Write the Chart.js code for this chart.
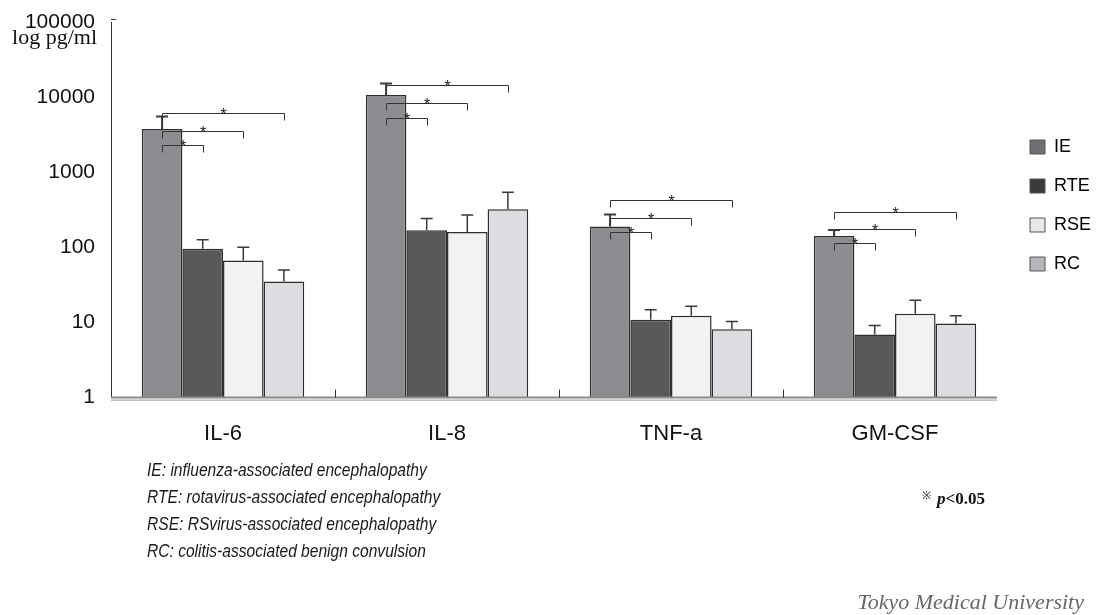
<!DOCTYPE html>
<html>
<head>
<meta charset="utf-8">
<script src="https://cdn.jsdelivr.net/npm/chart.js"></script>
<style>
    body { margin: 0; background: #fff; }
    #wrap { position: relative; width: 1099px; height: 615px; }
    .notes { position: absolute; left: 147px; top: 456px; font: italic 19px 'Liberation Sans', Arial, sans-serif; line-height: 27px; color: #1a1a1a; transform: scaleX(0.82); transform-origin: left top; white-space: nowrap; }
    .pval { position: absolute; left: 922px; top: 487px; font: bold 17px 'Liberation Serif', 'Times New Roman', serif; color: #111; }
    .pval .mark { font-weight: normal; font-size: 11px; vertical-align: 5px; margin-right: 6px; }
    .credit { position: absolute; right: 15px; top: 589px; font: italic 22px 'Liberation Serif', 'Times New Roman', serif; color: #666; }
</style>
</head>
<body>
<div id="wrap">
    <canvas id="cytokines" width="1099" height="615"></canvas>
    <div class="notes">
        IE: influenza-associated encephalopathy<br>
        RTE: rotavirus-associated encephalopathy<br>
        RSE: RSvirus-associated encephalopathy<br>
        RC: colitis-associated benign convulsion
    </div>
    <div class="pval"><span class="mark">※</span><i>p</i>&lt;0.05</div>
    <div class="credit">Tokyo Medical University</div>
</div>
<script>
// cytokines on the x axis, patient groups as series
var categories = ['IL-6', 'IL-8', 'TNF-a', 'GM-CSF'];
var groups = ['IE', 'RTE', 'RSE', 'RC'];

// mean serum levels, pg/ml
var ieMean = [3750, 10700, 190, 142];
var rteMean = [96, 169, 10.9, 6.9];
var rseMean = [67, 160, 12.3, 13.1];
var rcMean = [35, 321, 8.1, 9.7];

// top of the error bars, pg/ml
var ieUpper = [5500, 15200, 273, 170];
var rteUpper = [126, 242, 14.8, 9.1];
var rseUpper = [100, 270, 16.5, 19.7];
var rcUpper = [50, 541, 10.3, 12.3];

// height of the p<0.05 brackets, IE against each other group
var sigRTE = [2340, 5300, 162, 113];
var sigRSE = [3555, 8240, 249, 174];
var sigRC = [6120, 14450, 432, 299];

var yTicks = [1, 10, 100, 1000, 10000, 100000];

var barColors = ['#8c8d91', '#58595b', '#f1f2f2', '#dcdde0'];
var legendColors = ['#6e6f73', '#3b3b3d', '#e6e7e8', '#b5b6ba'];

function series(i, mean, upper) {
    return {
        label: groups[i],
        data: mean,
        upper: upper,
        backgroundColor: barColors[i],
        borderColor: '#2e2e2e',
        borderWidth: 1.5,
        barPercentage: 1,
        categoryPercentage: 0.725
    };
}

// error bars, brackets and the axis bits Chart.js doesn't draw by itself
var extras = {
    id: 'extras',
    afterLayout: function (chart) {
        var lg = chart.legend;
        var h = lg.bottom - lg.top;
        lg.left = 1009;
        lg.right = lg.left + lg.width;
        lg.top = 117;
        lg.bottom = lg.top + h;
    },
    afterDatasetsDraw: function (chart) {
        var ctx = chart.ctx;
        var y = chart.scales.y;
        var x = chart.scales.x;
        var area = chart.chartArea;
        ctx.save();

        // upward error bars with caps
        chart.data.datasets.forEach(function (ds, d) {
            chart.getDatasetMeta(d).data.forEach(function (bar, i) {
                var top = y.getPixelForValue(ds.upper[i]);
                ctx.strokeStyle = '#3a3a3a';
                ctx.lineWidth = d === 0 ? 2 : 1.5;
                ctx.beginPath();
                ctx.moveTo(bar.x, bar.y);
                ctx.lineTo(bar.x, top);
                ctx.moveTo(bar.x - 6, top);
                ctx.lineTo(bar.x + 6, top);
                ctx.stroke();
            });
        });

        // significance brackets from IE to RTE, RSE and RC
        var levels = [sigRTE, sigRSE, sigRC];
        var ie = chart.getDatasetMeta(0).data;
        ctx.lineWidth = 1;
        ctx.strokeStyle = '#333';
        ctx.fillStyle = '#222';
        ctx.font = '16px "Liberation Sans", Arial, sans-serif';
        ctx.textAlign = 'center';
        ctx.textBaseline = 'alphabetic';
        levels.forEach(function (lv, k) {
            var other = chart.getDatasetMeta(k + 1).data;
            lv.forEach(function (v, i) {
                var yy = Math.round(y.getPixelForValue(v)) + 0.5;
                var x0 = Math.round(ie[i].x) + 0.5;
                var x1 = Math.round(other[i].x) + 0.5;
                ctx.beginPath();
                ctx.moveTo(x0, yy + 7);
                ctx.lineTo(x0, yy);
                ctx.lineTo(x1, yy);
                ctx.lineTo(x1, yy + 7);
                ctx.stroke();
                ctx.fillText('*', (x0 + x1) / 2, yy + 6);
            });
        });

        // baseline (double grey rule) and group separators
        ctx.strokeStyle = '#8a8a8a';
        ctx.lineWidth = 2;
        ctx.beginPath();
        ctx.moveTo(area.left, area.bottom);
        ctx.lineTo(area.right - 10, area.bottom);
        ctx.stroke();
        ctx.lineWidth = 1;
        ctx.strokeStyle = '#9a9a9a';
        ctx.beginPath();
        ctx.moveTo(area.left, area.bottom + 2.5);
        ctx.lineTo(area.right - 10, area.bottom + 2.5);
        ctx.stroke();

        ctx.strokeStyle = '#333';
        ctx.beginPath();
        for (var i = 1; i < categories.length; i++) {
            var bx = Math.round((x.getPixelForValue(i - 1) + x.getPixelForValue(i)) / 2) + 0.5;
            ctx.moveTo(bx, area.bottom);
            ctx.lineTo(bx, area.bottom - 8);
        }
        // small tick at the top of the y axis
        ctx.moveTo(area.left, area.top - 2.5);
        ctx.lineTo(area.left + 5, area.top - 2.5);
        ctx.stroke();

        // unit label under the top tick value
        ctx.fillStyle = '#111';
        ctx.font = '22px "Liberation Serif", "Times New Roman", serif';
        ctx.textAlign = 'right';
        ctx.fillText('log pg/ml', 97, 44);
        ctx.restore();
    }
};

var ctx = document.getElementById('cytokines').getContext('2d');

var cytokineChart = new Chart(ctx, {
    type: 'bar',
    data: {
        labels: categories,
        datasets: [
            series(0, ieMean, ieUpper),
            series(1, rteMean, rteUpper),
            series(2, rseMean, rseUpper),
            series(3, rcMean, rcUpper)
        ]
    },
    options: {
        responsive: false,
        animation: false,
        layout: { padding: { top: 22, left: 0, right: 0, bottom: 145 } },
        scales: {
            x: {
                grid: { display: false, drawTicks: false },
                border: { display: false },
                ticks: { color: '#111', padding: 23, font: { family: 'Liberation Sans', size: 22 } }
            },
            y: {
                type: 'logarithmic',
                min: 1,
                max: 100000,
                grid: { display: false, drawTicks: false },
                border: { display: true, color: '#333', width: 1 },
                afterBuildTicks: function (scale) {
                    scale.ticks = yTicks.map(function (v) { return { value: v }; });
                },
                afterFit: function (scale) {
                    scale.width = 111;
                    // the end labels may stick out; keep the plot edges where they are
                    scale.paddingTop = 0;
                    scale.paddingBottom = 0;
                },
                ticks: {
                    color: '#111',
                    padding: 16,
                    font: { family: 'Liberation Sans', size: 21 },
                    callback: function (v) { return String(v); }
                }
            }
        },
        plugins: {
            tooltip: { enabled: false },
            legend: {
                position: 'right',
                align: 'start',
                maxWidth: 100,
                labels: {
                    boxWidth: 15,
                    boxHeight: 14,
                    padding: 21,
                    color: '#111',
                    font: { family: 'Liberation Sans', size: 18 },
                    generateLabels: function () {
                        return groups.map(function (g, i) {
                            return { text: g, fillStyle: legendColors[i], strokeStyle: '#555', lineWidth: 1, datasetIndex: i, hidden: false };
                        });
                    }
                }
            }
        }
    },
    plugins: [extras]
});
</script>
</body>
</html>
